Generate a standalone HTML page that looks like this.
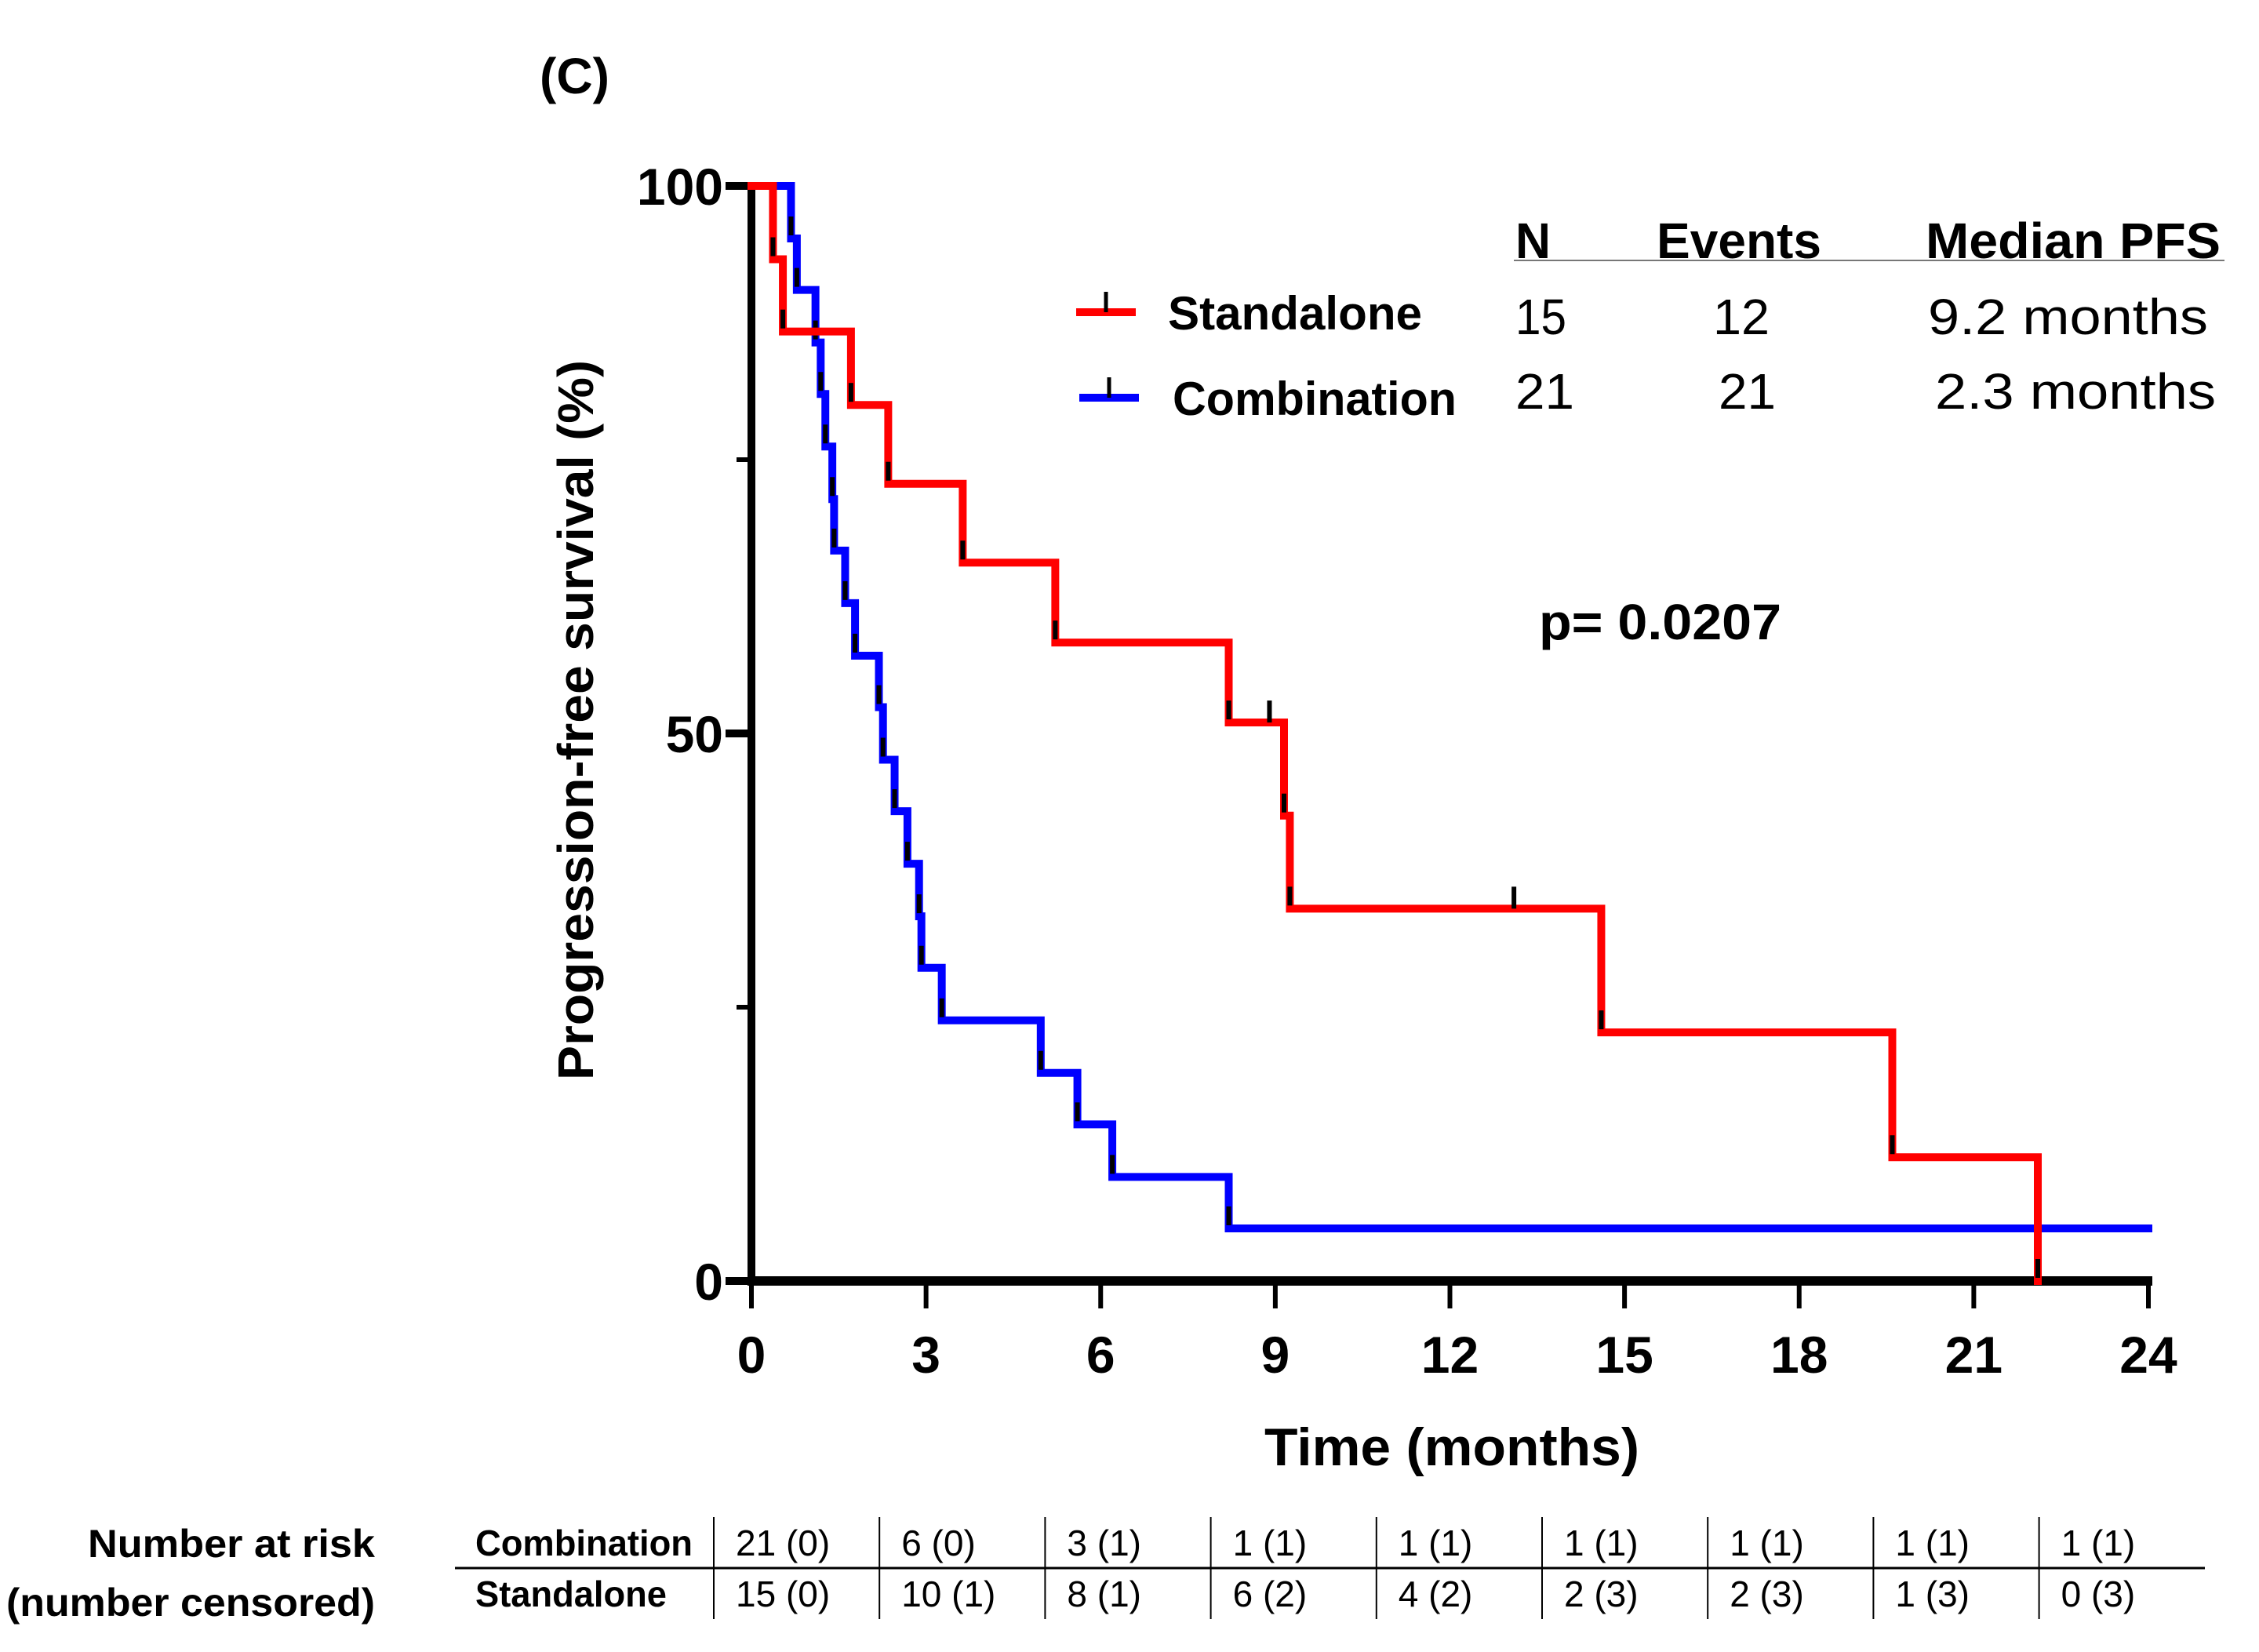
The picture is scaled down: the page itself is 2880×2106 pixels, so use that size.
<!DOCTYPE html>
<html><head><meta charset="utf-8"><style>
html,body{margin:0;padding:0;background:#fff;}
svg{display:block;font-family:"Liberation Sans",sans-serif;}
</style></head><body>
<svg id="chart" width="2880" height="2106" viewBox="0 0 2880 2106" xmlns="http://www.w3.org/2000/svg">
<g id="g-axes"></g>
<g id="g-series"></g>
<g id="g-text">
<text x="688" y="119" font-size="64" font-weight="bold" textLength="89" lengthAdjust="spacingAndGlyphs">(C)</text>
<text transform="translate(756,918) rotate(-90)" text-anchor="middle" font-size="64" font-weight="bold" textLength="918" lengthAdjust="spacingAndGlyphs">Progression-free survival (%)</text>
<text x="1612" y="1868" font-size="68" font-weight="bold" textLength="478" lengthAdjust="spacingAndGlyphs">Time (months)</text>
<line x1="1372" y1="398" x2="1448" y2="398" stroke="#ff0000" stroke-width="10"/>
<line x1="1410" y1="372" x2="1410" y2="398" stroke="#000" stroke-width="5"/>
<text x="1489" y="420" font-size="60" font-weight="bold" textLength="324" lengthAdjust="spacingAndGlyphs">Standalone</text>
<line x1="1376" y1="507" x2="1452" y2="507" stroke="#0000ff" stroke-width="10"/>
<line x1="1414" y1="481" x2="1414" y2="507" stroke="#000" stroke-width="5"/>
<text x="1495" y="529" font-size="60" font-weight="bold" textLength="362" lengthAdjust="spacingAndGlyphs">Combination</text>
<text x="1932" y="329" font-size="64" font-weight="bold" textLength="45" lengthAdjust="spacingAndGlyphs">N</text>
<text x="2112" y="329" font-size="64" font-weight="bold" textLength="210" lengthAdjust="spacingAndGlyphs">Events</text>
<text x="2455" y="329" font-size="64" font-weight="bold" textLength="376" lengthAdjust="spacingAndGlyphs">Median PFS</text>
<line x1="1930" y1="332" x2="2836" y2="332" stroke="#777" stroke-width="2"/>
<text x="1932" y="426" font-size="64" textLength="65" lengthAdjust="spacingAndGlyphs">15</text>
<text x="2184" y="426" font-size="64" textLength="72" lengthAdjust="spacingAndGlyphs">12</text>
<text x="2458" y="426" font-size="64" textLength="357" lengthAdjust="spacingAndGlyphs">9.2 months</text>
<text x="1932" y="521" font-size="64" textLength="75" lengthAdjust="spacingAndGlyphs">21</text>
<text x="2191" y="521" font-size="64" textLength="73" lengthAdjust="spacingAndGlyphs">21</text>
<text x="2467" y="521" font-size="64" textLength="358" lengthAdjust="spacingAndGlyphs">2.3 months</text>
<text x="1962" y="815" font-size="64" font-weight="bold" textLength="309" lengthAdjust="spacingAndGlyphs">p= 0.0207</text>
<text x="478" y="1985" text-anchor="end" font-size="50" font-weight="bold" textLength="366" lengthAdjust="spacingAndGlyphs">Number at risk</text>
<text x="478" y="2060" text-anchor="end" font-size="50" font-weight="bold" textLength="470" lengthAdjust="spacingAndGlyphs">(number censored)</text>
<text x="606" y="1983" font-size="46" font-weight="bold" textLength="277" lengthAdjust="spacingAndGlyphs">Combination</text>
<text x="606" y="2048" font-size="46" font-weight="bold" textLength="244" lengthAdjust="spacingAndGlyphs">Standalone</text>
<line x1="580" y1="1999" x2="2811" y2="1999" stroke="#000" stroke-width="3"/>
</g>
<g id="g-risk"></g>
</svg>
<script>
const xTicks = [0,3,6,9,12,15,18,21,24];
const yTicks = [0,25,50,75,100];
const yTickLabels = ["0","","50","","100"];
const standTimes = [0.37,0.54,1.71,2.35,3.63,5.22,8.2,9.15,9.25,14.6,19.6,22.1];
const standVals  = [93.3,86.7,80.0,72.8,65.6,58.3,51.0,42.5,34.0,22.7,11.3,0];
const standCensT = [8.9,13.1];
const standCensV = [51.0,34.0];
const combTimes = [0.68,0.78,1.1,1.19,1.27,1.39,1.42,1.61,1.78,2.19,2.26,2.46,2.68,2.88,2.92,3.27,4.97,5.6,6.2,8.2];
const combVals  = [95.2,90.5,85.7,81.0,76.2,71.4,66.7,61.9,57.1,52.4,47.6,42.9,38.1,33.3,28.6,23.8,19.0,14.3,9.5,4.8];
const combEnd = 24;
const riskComb = ["21 (0)","6 (0)","3 (1)","1 (1)","1 (1)","1 (1)","1 (1)","1 (1)","1 (1)"];
const riskStand = ["15 (0)","10 (1)","8 (1)","6 (2)","4 (2)","2 (3)","2 (3)","1 (3)","0 (3)"];

const NS="http://www.w3.org/2000/svg";
function X(t){return 958 + t*(2739-958)/24;}
function Y(v){return 1633 - v*(1633-237)/100;}
function mk(tag,attrs,parent){const e=document.createElementNS(NS,tag);for(const k in attrs)e.setAttribute(k,attrs[k]);parent.appendChild(e);return e;}
const ax=document.getElementById('g-axes');
let e;
e=mk('line',{x1:958,y1:232,x2:958,y2:1639,stroke:'#000','stroke-width':10},ax);


e=mk('line',{x1:953,y1:1633,x2:X(24)+5,y2:1633,stroke:'#000','stroke-width':12},ax);


yTicks.forEach((v,i)=>{
  const major = yTickLabels[i]!=="";
  const t=mk('line',{x1:major?925:939,y1:Y(v),x2:958,y2:Y(v),stroke:'#000','stroke-width':major?10:6},ax);
  
  
  if(major){
    const l=mk('text',{x:922,y:Y(v)+24,'text-anchor':'end','font-size':66,'font-weight':'bold'},ax);
    l.textContent=yTickLabels[i];
    
    
  }
});
xTicks.forEach(v=>{
  const t=mk('line',{x1:X(v),y1:1633,x2:X(v),y2:1668,stroke:'#000','stroke-width':6},ax);
  
  
  const l=mk('text',{x:X(v),y:1750,'text-anchor':'middle','font-size':66,'font-weight':'bold'},ax);
  l.textContent=String(v);
  
  
});
const sg=document.getElementById('g-series');
function stepPath(times,vals,end){
  let d='M'+X(0)+','+Y(100); let prev=100;
  times.forEach((t,i)=>{d+=' L'+X(t)+','+Y(prev)+' L'+X(t)+','+Y(vals[i]); prev=vals[i];});
  if(end!==undefined) d+=' L'+X(end)+','+Y(prev);
  return d;
}
function drawSeries(times,vals,end,color,name){
  const p=mk('path',{d:stepPath(times,vals,end),fill:'none',stroke:color,'stroke-width':10,'stroke-linejoin':'miter','stroke-linecap':'square'},sg);
  
  
  times.forEach((t,i)=>{
    const m=mk('line',{x1:X(t),y1:Y(vals[i])-28,x2:X(t),y2:Y(vals[i])-4,stroke:'#000','stroke-width':6},sg);
    
    
  });
}
drawSeries(combTimes,combVals,combEnd,'#0000ff','combination-curve');
drawSeries(standTimes,standVals,undefined,'#ff0000','standalone-curve');
standCensT.forEach((t,i)=>{
  const m=mk('line',{x1:X(t),y1:Y(standCensV[i])-28,x2:X(t),y2:Y(standCensV[i]),stroke:'#000','stroke-width':6},sg);
  
  
});
const rg=document.getElementById('g-risk');
for(let i=0;i<9;i++){
  const sx=910+i*211.2;
  const l=mk('line',{x1:sx,y1:1934,x2:sx,y2:2064,stroke:'#000','stroke-width':2},rg);
  
  
  const a=mk('text',{x:sx+28,y:1983,'font-size':46},rg);
  a.textContent=riskComb[i];
  
  
  const b=mk('text',{x:sx+28,y:2048,'font-size':46},rg);
  b.textContent=riskStand[i];
  
  
}
</script>
</body></html>
